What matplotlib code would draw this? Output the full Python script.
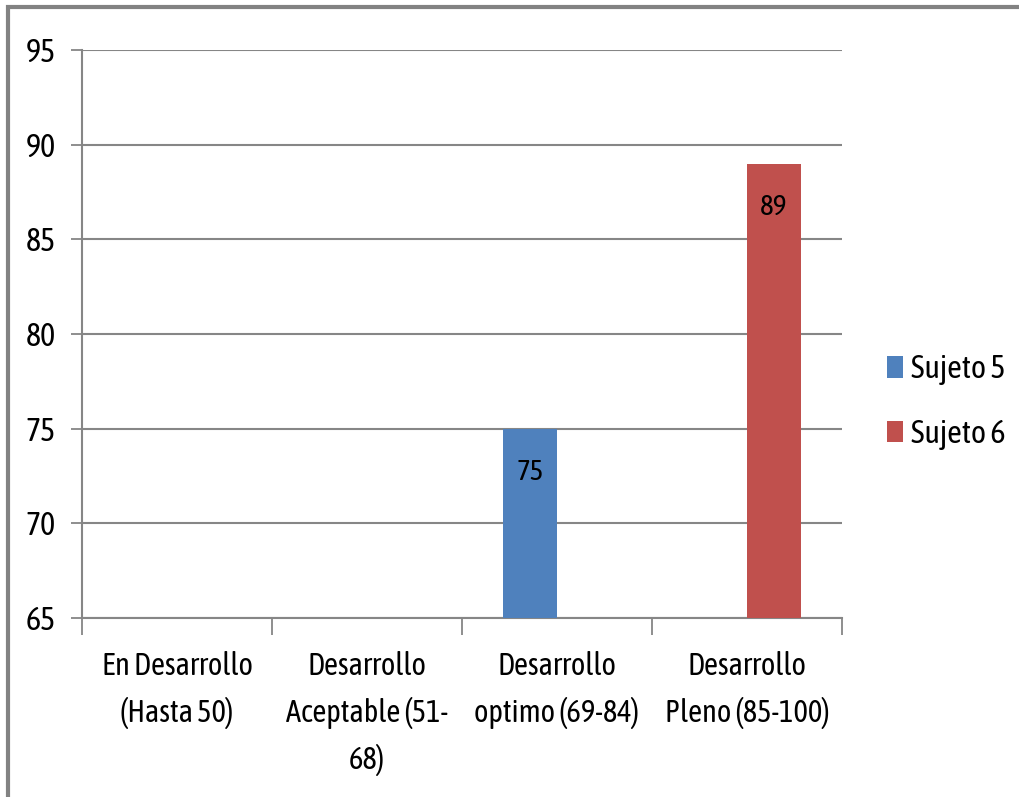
import numpy as np
import matplotlib
matplotlib.use("Agg")
import matplotlib.pyplot as plt
from matplotlib.patches import Rectangle

plt.rcParams['font.family'] = ['Asap Condensed', 'Roboto Condensed', 'DejaVu Sans']

# categories and scores per subject (nan = no bar)
categorias = ["En Desarrollo\n(Hasta 50)",
              "Desarrollo\nAceptable (51-\n68)",
              "Desarrollo\noptimo (69-84)",
              "Desarrollo\nPleno (85-100)"]
sujeto5 = [np.nan, np.nan, 75, np.nan]
sujeto6 = [np.nan, np.nan, np.nan, 89]
series = ["Sujeto 5", "Sujeto 6"]
colores = ["#4F81BD", "#C0504D"]
yticks = [65, 70, 75, 80, 85, 90, 95]

grid_c = "#868686"
fig = plt.figure(figsize=(10.2, 7.97), dpi=100)
fig.patch.set_facecolor("white")
# gray frame round the chart area
fig.patches.append(Rectangle((8 / 1020, -0.05), 1.2, 1 - 7 / 797 + 0.05,
                             transform=fig.transFigure, fill=False,
                             edgecolor="#828282", linewidth=3))

ax = fig.add_axes([82 / 1020, 1 - 618 / 797, 760 / 1020, 568 / 797])
x = np.arange(len(categorias))
w = 0.284
b1 = ax.bar(x - w / 2, sujeto5, w, color=colores[0], label=series[0], zorder=3)
b2 = ax.bar(x + w / 2, sujeto6, w, color=colores[1], label=series[1], zorder=3)

for bars, vals in ((b1, sujeto5), (b2, sujeto6)):
    for r, v in zip(bars, vals):
        if np.isnan(v):
            continue
        ax.annotate(f"{v:g}", (r.get_x() + r.get_width() / 2, v),
                    xytext=(0, -41), textcoords="offset points",
                    ha="center", va="bottom", fontsize=21, color="black",
                    zorder=4)

ax.set_ylim(65, 95)
ax.set_xlim(-0.5, 3.5)
ax.set_yticks(yticks)
ax.set_yticklabels([str(t) for t in yticks], fontsize=23)
ax.yaxis.grid(True, color=grid_c, linewidth=1.5, zorder=0)

# category boundaries carry the ticks, labels sit at the centres
ax.set_xticks(np.arange(-0.5, 4, 1))
ax.set_xticklabels([])
ax.set_xticks(x, minor=True)
ax.set_xticklabels(categorias, minor=True, fontsize=22, linespacing=1.6,
                   va="top")
ax.tick_params(axis="x", which="minor", length=0, pad=24)
ax.tick_params(axis="x", which="major", length=12, width=1.3, color=grid_c)
ax.tick_params(axis="y", length=8, width=1.3, color=grid_c, pad=11)

for s in ("top", "right"):
    ax.spines[s].set_visible(False)
for s in ("left", "bottom"):
    ax.spines[s].set_color(grid_c)
    ax.spines[s].set_linewidth(1.5)

ax.legend(loc="center left", bbox_to_anchor=((887 - 82) / 760, 0.38),
          frameon=False, fontsize=23, handlelength=0.5, handleheight=0.66,
          handletextpad=0.25, labelspacing=1.05, borderpad=0,
          borderaxespad=0)

fig.savefig("out.png", dpi=100, facecolor="white")
